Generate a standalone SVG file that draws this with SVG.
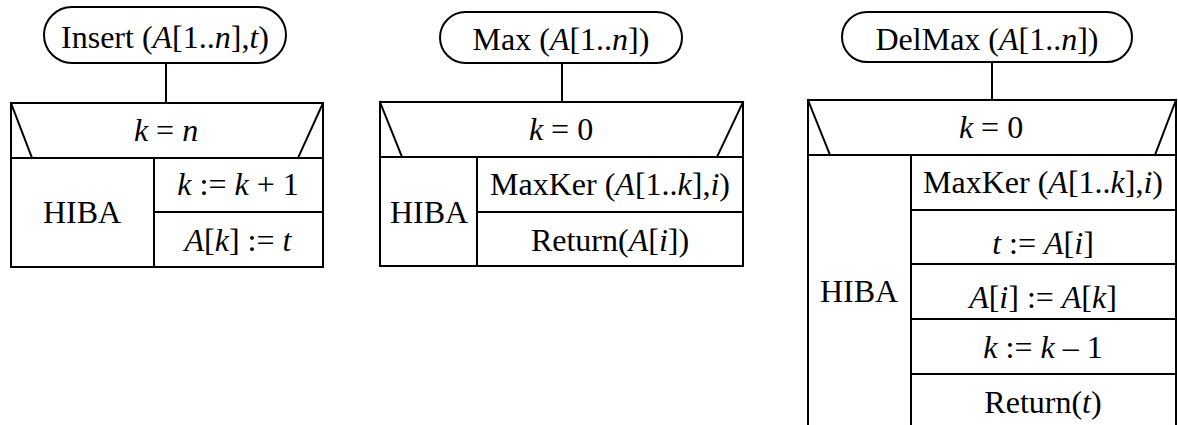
<svg xmlns="http://www.w3.org/2000/svg" width="1178" height="425" viewBox="0 0 1178 425">
<style>
.ln{stroke:#000;stroke-width:2;fill:none;stroke-linecap:square}
.ov{stroke:#000;stroke-width:2;fill:#fff}
text{font-family:"Liberation Serif","Times New Roman",serif;font-size:32px;fill:#000;text-anchor:middle}
.i{font-style:italic}
</style>
<rect width="1178" height="425" fill="#fff"/>
<g id="connectors">
<line class="ln" x1="166" y1="63" x2="166" y2="103"/>
<line class="ln" x1="562" y1="63" x2="562" y2="102"/>
<line class="ln" x1="992" y1="62" x2="992" y2="100"/>
</g>
<g id="insert-title">
<rect class="ov" x="44" y="7" width="242" height="56" rx="28"/>
<text x="165" y="48">Insert (<tspan class="i">A</tspan>[1..<tspan class="i">n</tspan>],<tspan class="i">t</tspan>)</text>
</g>
<g id="insert-body">
<rect class="ln" x="11" y="103" width="312" height="164"/>
<line class="ln" x1="11" y1="158" x2="323" y2="158"/>
<line class="ln" x1="11" y1="103" x2="32" y2="158"/>
<line class="ln" x1="323" y1="103" x2="298" y2="158"/>
<line class="ln" x1="154" y1="158" x2="154" y2="267"/>
<line class="ln" x1="154" y1="212" x2="323" y2="212"/>
<text x="166" y="141"><tspan class="i">k</tspan> = <tspan class="i">n</tspan></text>
<text x="82" y="223">HIBA</text>
<text x="238" y="195"><tspan class="i">k</tspan> := <tspan class="i">k</tspan> + 1</text>
<text x="238" y="251"><tspan class="i">A</tspan>[<tspan class="i">k</tspan>] := <tspan class="i">t</tspan></text>
</g>
<g id="max-title">
<rect class="ov" x="440" y="12" width="242" height="51" rx="25.5"/>
<text x="561" y="50">Max (<tspan class="i">A</tspan>[1..<tspan class="i">n</tspan>])</text>
</g>
<g id="max-body">
<rect class="ln" x="380" y="102" width="363" height="164"/>
<line class="ln" x1="380" y1="157" x2="743" y2="157"/>
<line class="ln" x1="380" y1="102" x2="402" y2="157"/>
<line class="ln" x1="743" y1="102" x2="717" y2="157"/>
<line class="ln" x1="477" y1="157" x2="477" y2="266"/>
<line class="ln" x1="477" y1="212" x2="743" y2="212"/>
<text x="561" y="140"><tspan class="i">k</tspan> = 0</text>
<text x="429" y="223">HIBA</text>
<text x="610" y="195">MaxKer (<tspan class="i">A</tspan>[1..<tspan class="i">k</tspan>],<tspan class="i">i</tspan>)</text>
<text x="610" y="251">Return(<tspan class="i">A</tspan>[<tspan class="i">i</tspan>])</text>
</g>
<g id="delmax-title">
<rect class="ov" x="842" y="12" width="290" height="50" rx="25"/>
<text x="987" y="50">DelMax (<tspan class="i">A</tspan>[1..<tspan class="i">n</tspan>])</text>
</g>
<g id="delmax-body">
<polyline class="ln" points="808,430 808,100 1176,100 1176,430"/>
<line class="ln" x1="808" y1="155" x2="1176" y2="155"/>
<line class="ln" x1="808" y1="100" x2="830" y2="155"/>
<line class="ln" x1="1176" y1="100" x2="1155" y2="155"/>
<line class="ln" x1="911" y1="155" x2="911" y2="430"/>
<line class="ln" x1="911" y1="210" x2="1176" y2="210"/>
<line class="ln" x1="911" y1="264" x2="1176" y2="264"/>
<line class="ln" x1="911" y1="319" x2="1176" y2="319"/>
<line class="ln" x1="911" y1="374" x2="1176" y2="374"/>
<text x="991" y="138"><tspan class="i">k</tspan> = 0</text>
<text x="859" y="302">HIBA</text>
<text x="1043" y="193">MaxKer (<tspan class="i">A</tspan>[1..<tspan class="i">k</tspan>],<tspan class="i">i</tspan>)</text>
<text x="1043" y="254"><tspan class="i">t</tspan> := <tspan class="i">A</tspan>[<tspan class="i">i</tspan>]</text>
<text x="1043" y="308"><tspan class="i">A</tspan>[<tspan class="i">i</tspan>] := <tspan class="i">A</tspan>[<tspan class="i">k</tspan>]</text>
<text x="1043" y="358"><tspan class="i">k</tspan> := <tspan class="i">k</tspan> – 1</text>
<text x="1043" y="413">Return(<tspan class="i">t</tspan>)</text>
</g>
</svg>
